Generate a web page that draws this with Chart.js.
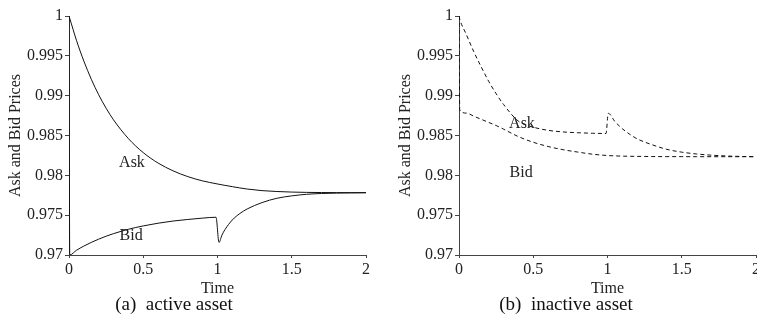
<!DOCTYPE html>
<html>
<head>
<meta charset="utf-8">
<script src="https://cdn.jsdelivr.net/npm/chart.js@4.4.0/dist/chart.umd.min.js"></script>
<style>
  html, body { margin: 0; padding: 0; background: #fff; overflow: hidden; width: 757px; height: 331px; }
  .box { position: absolute; top: 0; width: 380px; height: 300px; }
  .cap { position: absolute; top: 293px; font: 19px "Liberation Serif", serif; line-height: 22px; white-space: pre; transform: translateX(-50%); color: #111; }
</style>
</head>
<body>
<div class="box" style="left:0"><canvas id="active" width="380" height="300"></canvas></div>
<div class="box" style="left:390px"><canvas id="inactive" width="380" height="300"></canvas></div>
<div class="cap" style="left:174px">(a)  active asset</div>
<div class="cap" style="left:566px">(b)  inactive asset</div>
<script>
// values
const timeActive = [0, 0.005, 0.05, 0.1, 0.15, 0.2, 0.25, 0.3, 0.4, 0.5, 0.6, 0.7, 0.8, 0.9, 0.99,
  1.01, 1.03, 1.05, 1.1, 1.15, 1.2, 1.3, 1.4, 1.5, 1.6, 1.7, 1.8, 1.9, 2];
const askActive = [1, 0.9997, 0.99696, 0.99434, 0.99207, 0.99011, 0.98842, 0.98696, 0.98461, 0.98285,
  0.98154, 0.98057, 0.97984, 0.9793, 0.97895, 0.97888, 0.97881, 0.97874, 0.97858, 0.97842, 0.97828,
  0.97808, 0.97797, 0.9779, 0.97786, 0.97784, 0.97783, 0.97782, 0.97782];
const bidActive = [1, 0.97, 0.97059, 0.97112, 0.97158, 0.97199, 0.97236, 0.97268, 0.97323, 0.97365,
  0.97399, 0.97426, 0.97446, 0.97463, 0.97474, 0.97158, 0.9725, 0.97318, 0.9744, 0.9752, 0.97578,
  0.97658, 0.97712, 0.97742, 0.97762, 0.97772, 0.97777, 0.9778, 0.97782];

const timeInactive = [0, 0.005, 0.05, 0.1, 0.15, 0.2, 0.25, 0.3, 0.4, 0.5, 0.6, 0.7, 0.8, 0.9, 0.99,
  1.005, 1.05, 1.1, 1.15, 1.2, 1.3, 1.4, 1.5, 1.6, 1.7, 1.8, 1.9, 2];
const askInactive = [1, 0.9996, 0.99765, 0.9955, 0.9936, 0.9918, 0.99025, 0.9889, 0.9868, 0.98605,
  0.98565, 0.98545, 0.98535, 0.98528, 0.98525, 0.98779, 0.98675, 0.98585, 0.98515, 0.98458, 0.98384,
  0.98326, 0.98291, 0.98268, 0.98253, 0.98243, 0.98237, 0.98234];
const bidInactive = [1, 0.9882, 0.98781, 0.98742, 0.98703, 0.98664, 0.98625, 0.9858, 0.98486, 0.98415,
  0.98362, 0.98322, 0.98292, 0.98265, 0.9825, 0.98248, 0.98244, 0.98241, 0.98239, 0.98238, 0.98236,
  0.98235, 0.98235, 0.98234, 0.98234, 0.98234, 0.98234, 0.98234];

const xTicks = [0, 0.5, 1, 1.5, 2];
const yTicks = [0.97, 0.975, 0.98, 0.985, 0.99, 0.995, 1];

// in-plot curve names, at data coordinates
const activeNotes = [{ text: 'Ask', t: 0.424, p: 0.98167 }, { text: 'Bid', t: 0.418, p: 0.97251 }];
const inactiveNotes = [{ text: 'Ask', t: 0.424, p: 0.98657 }, { text: 'Bid', t: 0.418, p: 0.98042 }];

const serif = '"Liberation Serif", "Times New Roman", serif';

const curveText = {
  id: 'curveText',
  afterDatasetsDraw(chart, args, opts) {
    const { ctx, scales: { x, y } } = chart;
    ctx.save();
    ctx.font = '16px ' + serif;
    ctx.fillStyle = '#222';
    ctx.textAlign = 'center';
    ctx.textBaseline = 'middle';
    opts.items.forEach(it => ctx.fillText(it.text, x.getPixelForValue(it.t), y.getPixelForValue(it.p) + 1));
    ctx.restore();
  }
};

function pts(t, v) {
  return t.map((x, i) => ({ x: x, y: v[i] }));
}

function fmt(v) {
  return String(Number(v.toFixed(3)));
}

function makeChart(id, time, ask, bid, dash, notes) {
  const line = {
    borderColor: '#111',
    borderWidth: 1,
    borderDash: dash,
    pointRadius: 0,
    cubicInterpolationMode: 'monotone',
    fill: false
  };
  return new Chart(document.getElementById(id), {
    type: 'line',
    data: {
      datasets: [
        Object.assign({ label: 'Ask', data: pts(time, ask) }, line),
        Object.assign({ label: 'Bid', data: pts(time, bid) }, line)
      ]
    },
    plugins: [curveText],
    options: {
      responsive: false,
      animation: false,
      devicePixelRatio: 1,
      layout: { padding: { left: 0, top: 16, right: 14, bottom: 2 } },
      plugins: {
        legend: { display: false },
        tooltip: { enabled: false },
        curveText: { items: notes }
      },
      scales: {
        x: {
          type: 'linear',
          min: 0,
          max: 2,
          afterFit: s => { s.height = 43; },
          afterBuildTicks: s => { s.ticks = xTicks.map(v => ({ value: v })); },
          grid: { drawOnChartArea: false, tickLength: 3, color: '#444' },
          border: { color: '#444', width: 1 },
          ticks: { padding: 2, color: '#222', font: { family: serif, size: 16 }, callback: v => fmt(v), maxRotation: 0 },
          title: { display: true, text: 'Time', color: '#222', padding: { top: 0, bottom: 0 }, font: { family: serif, size: 16 } }
        },
        y: {
          min: 0.97,
          max: 1,
          afterFit: s => { s.width = 69; },
          afterBuildTicks: s => { s.ticks = yTicks.map(v => ({ value: v })); },
          grid: { drawOnChartArea: false, tickLength: 4, color: '#444' },
          border: { color: '#444', width: 1 },
          ticks: { padding: 2, color: '#222', font: { family: serif, size: 16 }, callback: v => fmt(v) },
          title: { display: true, text: 'Ask and Bid Prices', color: '#222', padding: { top: 6, bottom: 0 }, font: { family: serif, size: 16 } }
        }
      }
    }
  });
}

makeChart('active', timeActive, askActive, bidActive, [], activeNotes);
makeChart('inactive', timeInactive, askInactive, bidInactive, [4, 3], inactiveNotes);
</script>
</body>
</html>
